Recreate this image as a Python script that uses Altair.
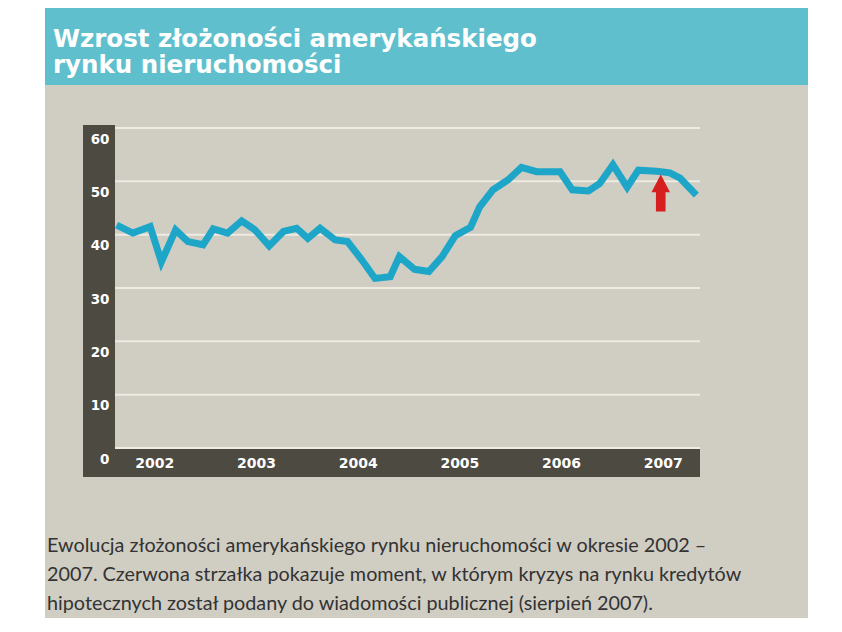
import altair as alt
import pandas as pd

# ---- data ----
title_lines = ["Wzrost złożoności amerykańskiego", "rynku nieruchomości"]
caption_lines = [
    "Ewolucja złożoności amerykańskiego rynku nieruchomości w okresie 2002 –",
    "2007. Czerwona strzałka pokazuje moment, w którym kryzys na rynku kredytów",
    "hipotecznych został podany do wiadomości publicznej (sierpień 2007).",
]
years = [2002.13, 2002.29, 2002.46, 2002.57, 2002.71, 2002.83, 2002.98,
         2003.08, 2003.22, 2003.36, 2003.49, 2003.63, 2003.77, 2003.90,
         2004.01, 2004.13, 2004.28, 2004.40, 2004.54, 2004.67, 2004.82, 2004.91,
         2005.06, 2005.20, 2005.33, 2005.46, 2005.61, 2005.70, 2005.83, 2005.98,
         2006.11, 2006.26, 2006.49, 2006.61, 2006.77, 2006.88,
         2007.01, 2007.15, 2007.26, 2007.44, 2007.57, 2007.67, 2007.83]
complexity = [41.8, 40.3, 41.5, 34.9, 40.9, 38.7, 38.1,
              41.1, 40.3, 42.6, 40.9, 37.9, 40.6, 41.2,
              39.3, 41.2, 39.0, 38.7, 35.3, 31.8, 32.1, 35.9,
              33.5, 33.1, 35.9, 39.8, 41.4, 45.2, 48.4, 50.3,
              52.6, 51.8, 51.8, 48.4, 48.2, 49.6,
              53.1, 48.9, 52.1, 51.9, 51.6, 50.6, 47.4]
year_labels = [2002, 2003, 2004, 2005, 2006, 2007]
y_ticks = [0, 10, 20, 30, 40, 50, 60]
arrow_year = [2007.48]
arrow_value = [47.8]

# ---- style ----
TEAL = "#5fbfcd"
BEIGE = "#d0cdc3"
DARK = "#4d4a42"
LINE = "#1ea6c8"
GRID = "#eeebe2"
RED = "#d62020"
TEXT = "#333333"
ARROW_PATH = "M0,-1 L0.5,-0.04 L0.26,-0.04 L0.26,1 L-0.26,1 L-0.26,-0.04 L-0.5,-0.04 Z"

series = pd.DataFrame({"year": years, "value": complexity})
grid_df = pd.DataFrame({"value": y_ticks})
arrow_df = pd.DataFrame({"year": arrow_year, "value": arrow_value})
one = alt.Data(values=[{"k": 0}])

x_scale = alt.Scale(domain=[2002.114, 2007.866], nice=False, zero=False)
y_scale = alt.Scale(domain=[0, 60], nice=False)

x_axis = alt.Axis(values=[y + 0.5 for y in year_labels],
                  labelExpr="format(floor(datum.value), 'd')",
                  title=None, grid=False, ticks=False, domain=False,
                  labelFont="DejaVu Sans", labelFontWeight="bold", labelFontSize=14,
                  labelColor="white", labelPadding=15, labelBaseline="middle",
                  labelAlign="center", labelFlush=False, zindex=1)
y_axis = alt.Axis(values=y_ticks, title=None, grid=False, ticks=False, domain=False,
                  labelFont="DejaVu Sans", labelFontWeight="bold", labelFontSize=13.5,
                  labelColor="white", labelAlign="right", labelBaseline="top",
                  labelPadding=6, labelOffset=4, zindex=1)

def rect(color, x, x2, y, y2):
    return alt.Chart(one).mark_rect(color=color).encode(
        x=alt.value(x), x2=alt.value(x2), y=alt.value(y), y2=alt.value(y2))

bg = rect(BEIGE, -70, 693, -126, 490)
header = rect(TEAL, -70, 693, -126, -43)
left_band = rect(DARK, -32, 0, -3, 349)
bottom_band = rect(DARK, -32, 585, 321, 349)

grid = alt.Chart(grid_df).mark_rule(color=GRID, strokeWidth=2).encode(
    y=alt.Y("value:Q", scale=y_scale, axis=y_axis))

line = alt.Chart(series).mark_line(color=LINE, strokeWidth=7, strokeJoin="miter").encode(
    x=alt.X("year:Q", scale=x_scale, axis=x_axis),
    y=alt.Y("value:Q", scale=y_scale, axis=y_axis))

arrow = alt.Chart(arrow_df).mark_point(shape=ARROW_PATH, filled=True, size=1369,
                                       color=RED, opacity=1, strokeWidth=0).encode(
    x=alt.X("year:Q", scale=x_scale), y=alt.Y("value:Q", scale=y_scale))

title = alt.Chart(one).mark_text(text=title_lines, font="DejaVu Sans", fontWeight="bold",
                                 fontSize=24.5, color="white", align="left",
                                 baseline="alphabetic", lineHeight=26.6).encode(
    x=alt.value(-62), y=alt.value(-81.5))

caption = alt.Chart(one).mark_text(text=caption_lines, font="Lato", fontSize=19.8,
                                   color=TEXT, align="left", baseline="alphabetic",
                                   lineHeight=29).encode(
    x=alt.value(-68), y=alt.value(424))

chart = alt.layer(bg, header, left_band, bottom_band, grid, line, arrow, title, caption).properties(
    width=585, height=320,
    autosize=alt.AutoSizeParams(type="none"),
    padding={"left": 107, "top": 120, "right": 130, "bottom": 170},
    background="white",
).configure_view(stroke=None)

chart.save("out.html", embed_options={"renderer": "svg", "actions": False})
